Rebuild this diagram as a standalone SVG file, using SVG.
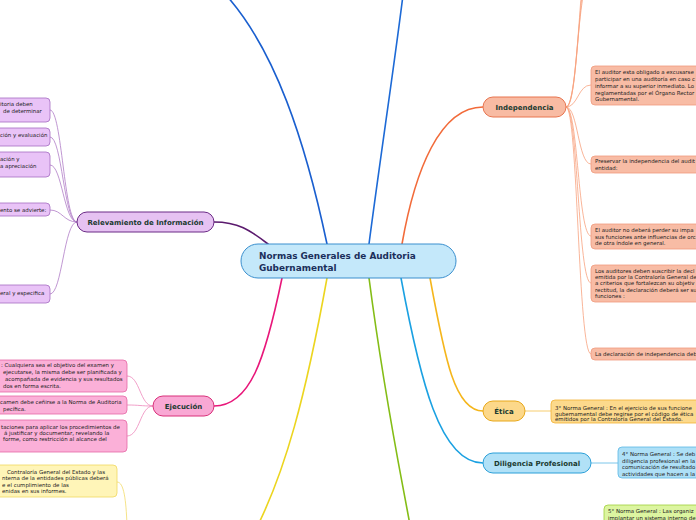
<svg xmlns="http://www.w3.org/2000/svg" width="696" height="520" viewBox="0 0 696 520">
<style>
.main{font-family:"DejaVu Sans",Verdana,sans-serif;font-weight:bold;font-size:7px;fill:#1a3a30;text-anchor:middle}
.sub{font-family:"DejaVu Sans",Verdana,sans-serif;font-size:5.45px;fill:#222222}
.br{fill:none;stroke-width:1.6;stroke-linecap:round}
.tw{fill:none;stroke-width:0.8}
</style>
<rect width="696" height="520" fill="#ffffff"/>
<g id="connectors">
<path class="br" d="M327,244 C305,140 275,50 226,-5" stroke="#1a5fcf"/>
<path class="br" d="M369,244 C380,160 395,60 403,-5" stroke="#1d6ad6"/>
<path class="br" d="M402,244 C415,170 440,107 483,107" stroke="#f26b3a"/>
<path class="br" d="M268,244 C250,230 238,222 214,222" stroke="#5b1a6e"/>
<path class="br" d="M282,278 C265,360 250,406 214,406" stroke="#e8177a"/>
<path class="br" d="M327,278 C305,400 285,470 258,525" stroke="#ecd51f"/>
<path class="br" d="M369,278 C385,400 400,470 410,525" stroke="#84bd16"/>
<path class="br" d="M401,278 C420,380 440,463 483,463" stroke="#1ba1e2"/>
<path class="br" d="M430,278 C445,360 455,411 483,411" stroke="#f5b61c"/>
<g stroke="#f7a27f" class="tw">
<path class="tw" d="M566,107 C578,107 576,-10 591,-30"/>
<path class="tw" d="M566,107 C578,107 578,-20 591,-60"/>
<path class="tw" d="M566,107 C578,107 580,-40 591,-100"/>
<path class="tw" d="M566,107 C578,107 578,85 591,85"/>
<path class="tw" d="M566,107 C578,107 578,164 591,164"/>
<path class="tw" d="M566,107 C578,107 578,236 591,236"/>
<path class="tw" d="M566,107 C578,107 578,283 591,283"/>
<path class="tw" d="M566,107 C578,107 578,354 591,354"/>
</g>
<g stroke="#b07cc6" class="tw">
<path class="tw" d="M77,222 C64,222 62,110 50,110"/>
<path class="tw" d="M77,222 C64,222 62,137 50,137"/>
<path class="tw" d="M77,222 C64,222 62,165 50,165"/>
<path class="tw" d="M77,222 C64,222 62,210 50,210"/>
<path class="tw" d="M77,222 C64,222 62,294 50,294"/>
</g>
<g stroke="#ee88bb" class="tw">
<path class="tw" d="M153,406 C140,406 140,376 127,376"/>
<path class="tw" d="M153,406 C140,406 140,405 127,405"/>
<path class="tw" d="M153,406 C140,406 140,436 127,436"/>
</g>
<path class="tw" d="M117,482 C124,482 126,500 127,525" stroke="#f2dc6a"/>
<path class="tw" d="M525,411 L551,411" stroke="#f5c04a"/>
<path class="tw" d="M591,463 L618,463" stroke="#5ab7e5"/>
</g>
<g id="central">
<rect x="241" y="244" width="215" height="34" rx="17" fill="#c4e8fa" stroke="#3a8fce" stroke-width="1"/>
<text x="259" y="258.5" font-family="'DejaVu Sans',Verdana,sans-serif" font-weight="bold" font-size="8.9" fill="#1b2f5b">Normas Generales de Auditoria</text>
<text x="259" y="270.5" font-family="'DejaVu Sans',Verdana,sans-serif" font-weight="bold" font-size="8.9" fill="#1b2f5b">Gubernamental</text>
</g>
<g id="independencia">
<rect x="483" y="97" width="83" height="20" rx="10" fill="#f8bba3" stroke="#e8744f" stroke-width="1"/>
<text class="main" x="524.5" y="109.5">Independencia</text>
</g>
<g id="relevamiento">
<rect x="77" y="212" width="137" height="20" rx="10" fill="#e6c2f2" stroke="#6b2a86" stroke-width="1"/>
<text class="main" x="145.5" y="224.5">Relevamiento de Información</text>
</g>
<g id="ejecucion">
<rect x="153" y="396" width="61" height="20" rx="10" fill="#f9a8d4" stroke="#d9307a" stroke-width="1"/>
<text class="main" x="183.5" y="408.5">Ejecución</text>
</g>
<g id="etica">
<rect x="483" y="401" width="42" height="20" rx="10" fill="#fcd88a" stroke="#e8a81a" stroke-width="1"/>
<text class="main" x="504" y="413.5">Ética</text>
</g>
<g id="diligencia">
<rect x="483" y="453" width="108" height="20" rx="10" fill="#b1e1f7" stroke="#2a9fd8" stroke-width="1"/>
<text class="main" x="537" y="465.5">Diligencia Profesional</text>
</g>
<g id="ind1">
<rect x="591" y="66" width="200" height="39" rx="4" fill="#f8bca5" stroke="#f09a7d" stroke-width="0.8"/>
<text class="sub" x="595" y="74">El auditor esta obligado a excusarse</text>
<text class="sub" x="595" y="81">participar en una auditoría en caso c</text>
<text class="sub" x="595" y="88">informar a su superior inmediato. Lo</text>
<text class="sub" x="595" y="94.5">reglamentadas por el Órgano Rector</text>
<text class="sub" x="595" y="101">Gubernamental.</text>
</g>
<g id="ind2">
<rect x="591" y="156" width="200" height="17" rx="4" fill="#f8bca5" stroke="#f09a7d" stroke-width="0.8"/>
<text class="sub" x="595" y="162.5">Preservar la independencia del audit</text>
<text class="sub" x="595" y="169.5">entidad:</text>
</g>
<g id="ind3">
<rect x="591" y="224" width="200" height="25" rx="4" fill="#f8bca5" stroke="#f09a7d" stroke-width="0.8"/>
<text class="sub" x="595" y="232">El auditor no deberá perder su impa</text>
<text class="sub" x="595" y="238.5">sus funciones ante influencias de orc</text>
<text class="sub" x="595" y="245">de otra índole en general.</text>
</g>
<g id="ind4">
<rect x="591" y="265" width="200" height="37" rx="4" fill="#f8bca5" stroke="#f09a7d" stroke-width="0.8"/>
<text class="sub" x="595" y="273">Los auditores deben suscribir la decl</text>
<text class="sub" x="595" y="279">emitida por la Contraloría General de</text>
<text class="sub" x="595" y="285">a criterios que fortalezcan su objetiv</text>
<text class="sub" x="595" y="291.5">rectitud, la declaración deberá ser su</text>
<text class="sub" x="595" y="298">funciones :</text>
</g>
<g id="ind5">
<rect x="591" y="348" width="200" height="12" rx="4" fill="#f8bca5" stroke="#f09a7d" stroke-width="0.8"/>
<text class="sub" x="595" y="356">La declaración de independencia deb</text>
</g>
<g id="rel1">
<rect x="-100" y="98" width="150" height="24" rx="4" fill="#e9c3f7" stroke="#a56cc1" stroke-width="0.8"/>
<text class="sub" x="0" y="106">itoria deben</text>
<text class="sub" x="3" y="113">de determinar</text>
</g>
<g id="rel2">
<rect x="-100" y="128" width="150" height="18" rx="4" fill="#e9c3f7" stroke="#a56cc1" stroke-width="0.8"/>
<text class="sub" x="0" y="137">ción y evaluación</text>
</g>
<g id="rel3">
<rect x="-100" y="152" width="150" height="25" rx="4" fill="#e9c3f7" stroke="#a56cc1" stroke-width="0.8"/>
<text class="sub" x="0" y="161">ación y</text>
<text class="sub" x="0" y="167.5">a apreciación</text>
</g>
<g id="rel4">
<rect x="-100" y="203" width="150" height="13" rx="4" fill="#e9c3f7" stroke="#a56cc1" stroke-width="0.8"/>
<text class="sub" x="0" y="211.5">ento se advierte:</text>
</g>
<g id="rel5">
<rect x="-100" y="285" width="150" height="18" rx="4" fill="#e9c3f7" stroke="#a56cc1" stroke-width="0.8"/>
<text class="sub" x="0" y="294.5">eral y especifica</text>
</g>
<g id="eje1">
<rect x="-100" y="360" width="227" height="32" rx="4" fill="#fbb0d8" stroke="#e668a6" stroke-width="0.8"/>
<text class="sub" x="1" y="366.5">: Cualquiera sea el objetivo del examen y</text>
<text class="sub" x="3" y="373.5">ejecutarse, la misma debe ser planificada y</text>
<text class="sub" x="5" y="380.5">acompañada de evidencia y sus resultados</text>
<text class="sub" x="3" y="387.5">dos en forma escrita.</text>
</g>
<g id="eje2">
<rect x="-100" y="396" width="227" height="18" rx="4" fill="#fbb0d8" stroke="#e668a6" stroke-width="0.8"/>
<text class="sub" x="0" y="404">camen debe ceñirse a la Norma de Auditoria</text>
<text class="sub" x="3" y="410.5">pecífica.</text>
</g>
<g id="eje3">
<rect x="-100" y="420" width="227" height="32" rx="4" fill="#fbb0d8" stroke="#e668a6" stroke-width="0.8"/>
<text class="sub" x="1" y="429">taciones para aplicar los procedimientos de</text>
<text class="sub" x="4" y="435">á justificar y documentar, revelando la</text>
<text class="sub" x="3" y="441">forme, como restricción al alcance del</text>
</g>
<g id="yel1">
<rect x="-100" y="465" width="217" height="32" rx="4" fill="#fff5b8" stroke="#f0d860" stroke-width="0.8"/>
<text class="sub" x="7" y="474">Contraloría General del Estado y las</text>
<text class="sub" x="2" y="480">nterna de la entidades públicas deberá</text>
<text class="sub" x="2" y="486.5">e el cumplimiento de las</text>
<text class="sub" x="2" y="493">enidas en sus informes.</text>
</g>
<g id="eti1">
<rect x="551" y="400" width="200" height="23" rx="4" fill="#fcd98c" stroke="#f2b134" stroke-width="0.8"/>
<text class="sub" x="555" y="410">3° Norma General : En el ejercicio de sus funcione</text>
<text class="sub" x="555" y="415.5">gubernamental debe regirse por el código de ética</text>
<text class="sub" x="555" y="421">emitidos por la Contraloría General del Estado.</text>
</g>
<g id="dil1">
<rect x="618" y="447" width="150" height="31" rx="4" fill="#aee0f7" stroke="#5ab7e5" stroke-width="0.8"/>
<text class="sub" x="622" y="456">4° Norma General : Se deb</text>
<text class="sub" x="622" y="462.5">diligencia profesional en la</text>
<text class="sub" x="622" y="469">comunicación de resultado</text>
<text class="sub" x="622" y="475.5">actividades que hacen a la</text>
</g>
<g id="green1">
<rect x="604" y="505" width="150" height="30" rx="4" fill="#dcf5a0" stroke="#9fcf3a" stroke-width="0.8"/>
<text class="sub" x="608" y="513">5° Norma General : Las organiz</text>
<text class="sub" x="608" y="519.5">implantar un sistema interno de</text>
</g>
</svg>
